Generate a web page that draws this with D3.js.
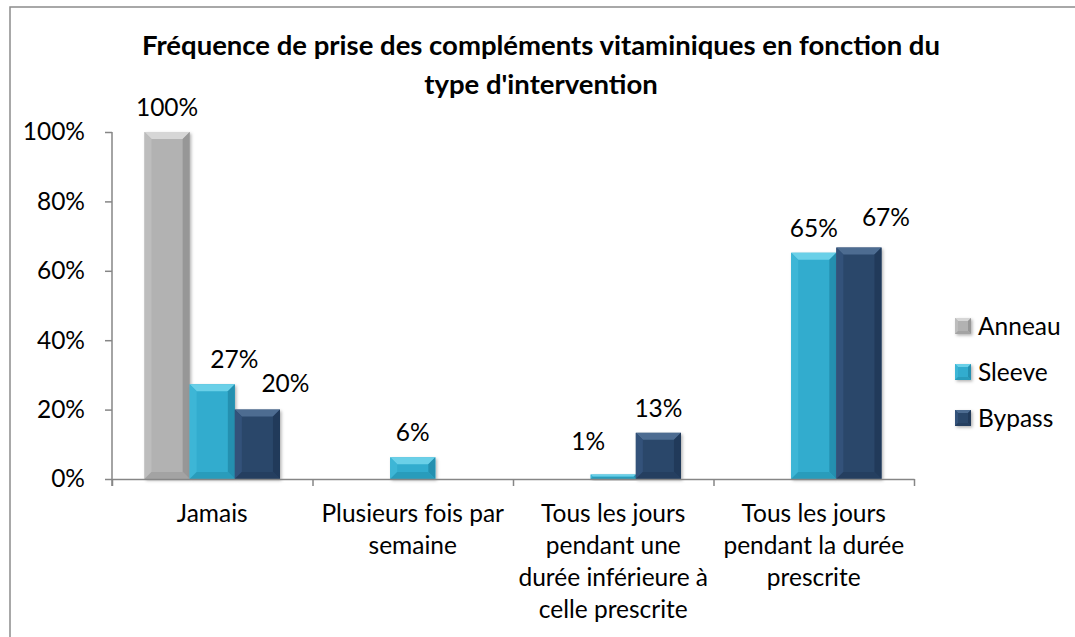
<!DOCTYPE html>
<html lang="fr">
  <head>
    <meta charset="utf-8" />
    <style type="text/css">
      body {
        margin: 0;
        background: #fff;
      }
      svg text {
        font-family: "Lato", "Open Sans", sans-serif;
        fill: #000;
      }
    </style>
  </head>
  <body>
    <svg width="1075" height="637"></svg>

    <script src="https://d3js.org/d3.v7.min.js"></script>
    <script type="text/javascript">
      // data
      var categories = [
        ["Jamais"],
        ["Plusieurs fois par", "semaine"],
        ["Tous les jours", "pendant une", "durée inférieure à", "celle prescrite"],
        ["Tous les jours", "pendant la durée", "prescrite"],
      ];
      var seriesNames = ["Anneau", "Sleeve", "Bypass"];
      var anneau = [1.0, 0, 0, 0];
      var sleeve = [0.273, 0.0625, 0.013, 0.652];
      var bypass = [0.2, 0, 0.133, 0.667];
      var yTicks = [0, 0.2, 0.4, 0.6, 0.8, 1];
      var title = [
        "Fréquence de prise des compléments vitaminiques en fonction du",
        "type d'intervention",
      ];

      var colors = {
        Anneau: { face: "#b2b2b2", top: "#d6d6d6", left: "#bdbdbd", right: "#979797", bottom: "#a3a3a3" },
        Sleeve: { face: "#30acce", top: "#6ad0e8", left: "#3db6d6", right: "#2490b0", bottom: "#299cbb" },
        Bypass: { face: "#2b476b", top: "#4d6c91", left: "#33527a", right: "#213a5a", bottom: "#253f60" },
      };

      // label nudges (the reference has a few labels moved by hand)
      var labelNudge = { "0|Bypass": [28, -2], "0|Sleeve": [22, 0], "2|Sleeve": [-25, -8], "3|Bypass": [27, -6] };

      var seriesValues = { Anneau: anneau, Sleeve: sleeve, Bypass: bypass };
      var fontSize = 24.5;

      var svg = d3.select("svg");

      var defs = svg.append("defs");
      var shadow = defs.append("filter").attr("id", "shadow")
        .attr("x", "-20%").attr("y", "-20%").attr("width", "150%").attr("height", "150%");
      shadow.append("feDropShadow")
        .attr("dx", 1.5).attr("dy", 1.5).attr("stdDeviation", 1.5)
        .attr("flood-color", "#000").attr("flood-opacity", 0.3);

      // outer frame
      svg.append("rect")
        .attr("x", 10).attr("y", 7)
        .attr("width", 1080).attr("height", 640)
        .attr("fill", "none")
        .attr("stroke", "#8c8c8c")
        .attr("stroke-width", 1.5);

      // title
      svg.append("text")
        .attr("text-anchor", "middle")
        .attr("font-weight", "bold")
        .attr("font-size", 27.5)
        .selectAll("tspan")
        .data(title)
        .join("tspan")
        .attr("x", 541)
        .attr("y", function (d, i) { return 55 + i * 39; })
        .text(function (d) { return d; });

      var plotL = 112, plotR = 914, plotT = 132, plotB = 479;

      var x0 = d3.scaleBand()
        .domain(d3.range(categories.length))
        .range([plotL, plotR])
        .padding(0);

      var x1 = d3.scaleBand()
        .domain(seriesNames)
        .range([0, x0.bandwidth()])
        .paddingInner(0)
        .paddingOuter(0.72);

      var y = d3.scaleLinear().domain([0, 1]).range([plotB, plotT]);

      // y axis
      var yAxis = svg.append("g")
        .attr("transform", "translate(" + plotL + ",0)")
        .call(d3.axisLeft(y).tickValues(yTicks).tickFormat(d3.format(".0%")).tickSize(7).tickSizeOuter(0));
      yAxis.select(".domain").attr("stroke", "#868686").attr("stroke-width", 1.5)
        .attr("d", "M0," + plotT + "V" + (plotB + 7));
      yAxis.selectAll(".tick line").attr("stroke", "#868686").attr("stroke-width", 1.5);
      yAxis.selectAll(".tick text")
        .attr("x", -27)
        .attr("font-size", fontSize)
        .style("font-family", "Lato, sans-serif")
        .attr("fill", "#000");

      // bars
      var barData = [];
      categories.forEach(function (c, ci) {
        seriesNames.forEach(function (s) {
          barData.push({ ci: ci, s: s, v: seriesValues[s][ci] });
        });
      });
      barData = barData.filter(function (d) { return d.v > 0; });

      function bevelBar(g, bx, by, w, h, col, b) {
        b = Math.min(b, h / 2, w / 2);
        g.append("rect").attr("x", bx).attr("y", by).attr("width", w).attr("height", h)
          .attr("fill", col.face).attr("filter", "url(#shadow)");
        var polys = [
          [col.top, [[bx, by], [bx + w, by], [bx + w - b, by + b], [bx + b, by + b]]],
          [col.left, [[bx, by], [bx + b, by + b], [bx + b, by + h - b], [bx, by + h]]],
          [col.right, [[bx + w, by], [bx + w, by + h], [bx + w - b, by + h - b], [bx + w - b, by + b]]],
          [col.bottom, [[bx, by + h], [bx + w, by + h], [bx + w - b, by + h - b], [bx + b, by + h - b]]],
        ];
        polys.forEach(function (p) {
          g.append("polygon").attr("points", p[1].map(function (q) { return q.join(","); }).join(" "))
            .attr("fill", p[0]);
        });
      }

      var barsG = svg.append("g");
      barData.forEach(function (d) {
        var bx = x0(d.ci) + x1(d.s);
        bevelBar(barsG.append("g"), bx, y(d.v), x1.bandwidth(), y(0) - y(d.v), colors[d.s], 7);
      });

      // x axis with ticks at category borders
      var xLin = d3.scaleLinear().domain([0, categories.length]).range([plotL, plotR]);
      var xAxis = svg.append("g")
        .attr("transform", "translate(0," + plotB + ")")
        .call(d3.axisBottom(xLin).tickValues(d3.range(categories.length + 1)).tickFormat("").tickSize(7).tickSizeOuter(0));
      xAxis.select(".domain").attr("stroke", "#868686").attr("stroke-width", 1.5);
      xAxis.selectAll(".tick line").attr("stroke", "#868686").attr("stroke-width", 1.5);

      // category labels
      svg.append("g").selectAll("text")
        .data(categories)
        .join("text")
        .attr("text-anchor", "middle")
        .attr("font-size", fontSize)
        .each(function (lines, ci) {
          d3.select(this).selectAll("tspan")
            .data(lines)
            .join("tspan")
            .attr("x", x0(ci) + x0.bandwidth() / 2)
            .attr("y", function (d, i) { return 522 + i * 32; })
            .text(function (d) { return d; });
        });

      // value labels
      svg.append("g").selectAll("text")
        .data(barData)
        .join("text")
        .attr("text-anchor", "middle")
        .attr("font-size", fontSize)
        .attr("x", function (d) {
          var n = labelNudge[d.ci + "|" + d.s];
          return x0(d.ci) + x1(d.s) + x1.bandwidth() / 2 + (n ? n[0] : 0);
        })
        .attr("y", function (d) {
          var n = labelNudge[d.ci + "|" + d.s];
          return y(d.v) - 16 + (n ? n[1] : 0);
        })
        .text(function (d) { return d3.format(".0%")(d.v); });

      // legend
      var legend = svg.append("g").selectAll("g")
        .data(seriesNames)
        .join("g")
        .attr("transform", function (d, i) { return "translate(955," + (326 + i * 46) + ")"; });
      legend.each(function (s) {
        bevelBar(d3.select(this), 0, -8, 16, 16, colors[s], 3);
      });
      legend.append("text")
        .attr("x", 23)
        .attr("y", 9)
        .attr("font-size", fontSize)
        .text(function (d) { return d; });
    </script>
  </body>
</html>
